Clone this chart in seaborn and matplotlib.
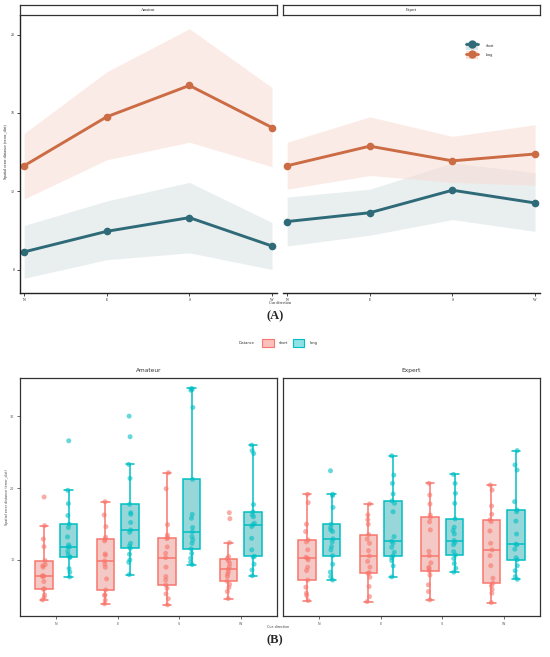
import numpy as np
import pandas as pd
import seaborn as sns
import matplotlib.pyplot as plt
from matplotlib.colors import to_rgb
from matplotlib.patches import Patch
from matplotlib.lines import Line2D

# ---- data ----
directions = ['N', 'E', 'S', 'W']
distances = ['short', 'long']
groups = ['Amateur', 'Expert']

# panel A: mean and ribbon per direction
ama_long_mean = [13.3, 15.8, 17.4, 15.25]
ama_long_lo = [11.6, 13.6, 14.5, 13.25]
ama_long_hi = [14.95, 18.1, 20.3, 17.3]
ama_short_mean = [8.9, 9.95, 10.65, 9.2]
ama_short_lo = [7.55, 8.5, 8.85, 8.0]
ama_short_hi = [10.25, 11.5, 12.45, 10.4]
exp_long_mean = [13.3, 14.3, 13.55, 13.9]
exp_long_lo = [12.1, 12.8, 12.45, 12.3]
exp_long_hi = [14.5, 15.8, 14.8, 15.4]
exp_short_mean = [10.45, 10.9, 12.05, 11.4]
exp_short_lo = [9.2, 9.75, 10.55, 9.95]
exp_short_hi = [11.7, 12.1, 13.45, 12.95]

# panel B: individual error distances
ama_short_N = [18.75, 14.77, 12.9, 11.85, 9.9, 9.35, 9.2, 8.99, 7.8, 7.74, 7.7, 7.0, 6.0, 5.93, 5.15, 4.78, 4.44]
ama_long_N = [26.57, 19.68, 17.83, 16.17, 14.96, 14.5, 13.2, 12.1, 11.8, 11.76, 11.16, 10.7, 10.4, 10.37, 8.8, 8.3, 7.64]
ama_short_E = [18.1, 16.25, 14.63, 13.15, 12.87, 12.64, 10.83, 10.65, 9.86, 9.4, 8.98, 7.36, 5.83, 5.14, 5.05, 4.4, 3.9]
ama_long_E = [30.0, 27.13, 23.29, 21.34, 17.73, 16.57, 16.34, 15.2, 14.17, 13.84, 12.31, 11.94, 11.62, 10.8, 10.0, 9.68, 7.96]
ama_short_S = [22.13, 19.9, 14.9, 13.47, 13.1, 12.96, 11.8, 10.93, 10.32, 9.0, 7.68, 7.2, 6.53, 6.06, 5.28, 4.6, 3.75]
ama_long_S = [33.85, 33.7, 33.6, 31.2, 21.2, 16.34, 15.8, 14.5, 13.9, 13.24, 12.8, 12.31, 11.53, 10.9, 10.23, 9.68, 9.35]
ama_short_W = [16.57, 15.74, 12.4, 10.46, 10.18, 9.86, 9.5, 9.03, 8.7, 8.3, 8.0, 7.68, 7.03, 6.6, 6.15, 5.6, 4.63]
ama_long_W = [25.97, 25.2, 24.8, 17.7, 16.7, 16.25, 16.0, 15.1, 14.9, 14.63, 13.0, 11.4, 10.5, 10.4, 9.4, 8.6, 7.8]
exp_short_N = [19.13, 17.97, 14.96, 13.94, 12.77, 12.5, 11.4, 10.37, 10.23, 10.0, 8.98, 8.52, 7.2, 6.2, 5.37, 5.05, 4.35]
exp_long_N = [22.4, 19.13, 18.94, 17.3, 14.96, 14.5, 14.17, 13.94, 12.93, 12.5, 11.85, 11.4, 10.6, 9.4, 8.3, 7.68, 7.2]
exp_short_E = [17.78, 16.25, 15.6, 14.96, 13.52, 12.9, 12.31, 11.3, 10.55, 9.8, 9.0, 8.24, 8.13, 7.6, 6.3, 4.9, 4.2]
exp_long_E = [24.49, 21.8, 20.65, 19.17, 18.2, 17.87, 16.7, 13.24, 12.6, 12.31, 11.76, 11.06, 10.55, 10.3, 9.9, 9.17, 7.64]
exp_short_S = [20.65, 19.03, 17.78, 16.25, 15.9, 15.3, 14.17, 11.2, 10.6, 9.6, 8.98, 8.8, 8.5, 7.9, 6.53, 5.6, 4.44]
exp_long_S = [21.9, 20.65, 19.26, 17.87, 15.7, 14.54, 14.07, 13.61, 12.7, 12.4, 12.1, 11.16, 10.7, 10.2, 9.5, 8.84, 8.3]
exp_short_W = [20.42, 19.72, 17.5, 16.34, 15.56, 15.33, 14.03, 12.31, 11.4, 10.6, 9.2, 7.45, 6.76, 6.39, 5.9, 5.37, 4.07]
exp_long_W = [25.2, 23.2, 22.5, 18.1, 16.94, 16.7, 15.4, 13.6, 12.2, 12.1, 11.5, 10.3, 10.0, 9.2, 8.5, 7.68, 7.3]

# ---- tables ----
line_rows = []
for grp, series in [('Amateur', [('short', ama_short_mean, ama_short_lo, ama_short_hi),
                                 ('long', ama_long_mean, ama_long_lo, ama_long_hi)]),
                    ('Expert', [('short', exp_short_mean, exp_short_lo, exp_short_hi),
                                ('long', exp_long_mean, exp_long_lo, exp_long_hi)])]:
    for dist, m, lo, hi in series:
        for d, a, b, c in zip(directions, m, lo, hi):
            line_rows.append(dict(Expertise=grp, Distance=dist, Cue=d, mean=a, lo=b, hi=c))
df_line = pd.DataFrame(line_rows)

raw = {
    ('Amateur', 'short'): [ama_short_N, ama_short_E, ama_short_S, ama_short_W],
    ('Amateur', 'long'): [ama_long_N, ama_long_E, ama_long_S, ama_long_W],
    ('Expert', 'short'): [exp_short_N, exp_short_E, exp_short_S, exp_short_W],
    ('Expert', 'long'): [exp_long_N, exp_long_E, exp_long_S, exp_long_W],
}
box_rows = []
for (grp, dist), lists in raw.items():
    for d, vals in zip(directions, lists):
        for v in vals:
            box_rows.append(dict(Expertise=grp, Distance=dist, Cue=d, error_dist=v))
df_box = pd.DataFrame(box_rows)

# ---- style ----
sns.set_style('white')
plt.rcParams['font.family'] = ['DejaVu Sans']
np.random.seed(3)

W, H = 550, 657
fig = plt.figure(figsize=(W / 100, H / 100), dpi=100)


def rect(x0, y0, x1, y1):
    return [x0 / W, 1 - y1 / H, (x1 - x0) / W, (y1 - y0) / H]


line_pal = {'short': '#2F6A79', 'long': '#CB6C45'}
band_pal = {'short': '#D5E0E1', 'long': '#F9D9D0'}
box_pal = {'short': '#F8766D', 'long': '#00BFC4'}
serif = 'Liberation Serif'

# ---- panel A ----
for grp, x0 in [('Amateur', 20), ('Expert', 283)]:
    ax = fig.add_axes(rect(x0, 15, x0 + 257, 293))
    sub = df_line[df_line['Expertise'] == grp]
    for dist in distances:
        s = sub[sub['Distance'] == dist]
        ax.fill_between(s['Cue'], s['lo'], s['hi'], color=band_pal[dist], alpha=0.5, lw=0)
    sns.lineplot(data=sub, x='Cue', y='mean', hue='Distance', hue_order=distances,
                 palette=line_pal, marker='o', markersize=5.5, markeredgewidth=0,
                 linewidth=2.1, sort=False, legend=False, ax=ax)
    ax.set_xlim(-0.05, 3.06)
    ax.set_ylim(6.8, 21)
    ax.set_xlabel('')
    ax.set_ylabel('')
    for side in ['top', 'right']:
        ax.spines[side].set_visible(False)
    ax.spines['bottom'].set_linewidth(1.0)
    ax.spines['left'].set_linewidth(1.0)
    ax.spines['bottom'].set_color('#222222')
    ax.spines['left'].set_color('#222222')
    ax.tick_params(axis='both', length=2, width=0.6, pad=1.5, labelsize=2.8)
    for lab in ax.get_xticklabels() + ax.get_yticklabels():
        lab.set_family(serif)
    if grp == 'Amateur':
        ax.set_yticks([8, 12, 16, 20])
        ax.tick_params(axis='y', left=True)
    else:
        ax.set_yticks([])
        ax.spines['left'].set_visible(False)
    ax.tick_params(axis='x', bottom=True)

    sax = fig.add_axes(rect(x0, 5, x0 + 257, 15))
    sax.set_xticks([])
    sax.set_yticks([])
    for sp in sax.spines.values():
        sp.set_linewidth(0.9)
        sp.set_color('#333333')
    sax.text(0.5, 0.5, grp, ha='center', va='center', fontsize=3, family=serif,
             transform=sax.transAxes)

    if grp == 'Expert':
        handles = [(Patch(fc=band_pal[d], ec='none', alpha=0.8),
                    Line2D([], [], color=line_pal[d], marker='o', lw=2, ms=5))
                   for d in distances]
        ax.legend(handles=handles, labels=distances, loc='upper left',
                  bbox_to_anchor=((462 - x0) / 257, (293 - 38) / 278), frameon=False,
                  handlelength=3.0, handleheight=2.6, labelspacing=0.3,
                  handletextpad=1.8, prop={'family': serif, 'size': 3})

fig.text(280 / W, 1 - 303 / H, 'Cue direction', ha='center', va='center', fontsize=3,
         family=serif)
fig.text(6 / W, 1 - 152 / H, 'Spatial error distance (error_dist)', rotation=90,
         ha='center', va='center', fontsize=3, family=serif)
fig.text(275 / W, 1 - 316 / H, '(A)', ha='center', va='center', fontsize=9,
         family=serif, fontweight='bold')

# ---- panel B ----
for grp, x0 in [('Amateur', 20), ('Expert', 283)]:
    ax = fig.add_axes(rect(x0, 378, x0 + 257, 616))
    sub = df_box[df_box['Expertise'] == grp]
    for dist in distances:
        sns.boxplot(data=sub[sub['Distance'] == dist], x='Cue', y='error_dist',
                    hue='Distance', order=directions, hue_order=distances,
                    palette=box_pal, linecolor=box_pal[dist], dodge=True,
                    width=0.8, gap=0.3, showfliers=False, linewidth=1.1,
                    legend=False, ax=ax)
    for p in ax.patches:
        fc = p.get_facecolor()
        p.set_facecolor((fc[0], fc[1], fc[2], 0.45))
    sns.stripplot(data=sub, x='Cue', y='error_dist', hue='Distance', order=directions,
                  hue_order=distances, palette=box_pal, dodge=True, jitter=0.05,
                  size=3.6, alpha=0.6, linewidth=0, legend=False, ax=ax)
    ax.set_xlim(-0.59, 3.59)
    ax.set_ylim(2.2, 35.3)
    ax.set_xlabel('')
    ax.set_ylabel('')
    for sp in ax.spines.values():
        sp.set_visible(True)
        sp.set_linewidth(0.9)
        sp.set_color('#333333')
    ax.tick_params(axis='both', length=2, width=0.6, pad=2, labelsize=2.4,
                   colors='#555555')
    ax.tick_params(axis='x', bottom=True)
    if grp == 'Amateur':
        ax.set_yticks([10, 20, 30])
        ax.tick_params(axis='y', left=True)
    else:
        ax.set_yticks([])
    ax.set_title(grp, fontsize=4.2, pad=4, color='#333333')

fig.text(278 / W, 1 - 627 / H, 'Cue direction', ha='center', va='center', fontsize=2.4,
         color='#444444')
fig.text(7 / W, 1 - 497 / H, 'Spatial error distance (error_dist)', rotation=90,
         ha='center', va='center', fontsize=2.4, color='#444444')
fig.text(247 / W, 1 - 343 / H, 'Distance', ha='center', va='center', fontsize=2.6,
         color='#333333')
leg_handles = [Patch(fc=(*to_rgb(box_pal[d]), 0.45), ec=box_pal[d], lw=0.8)
               for d in distances]
fig.legend(handles=leg_handles, labels=distances, loc='center left',
           bbox_to_anchor=(259 / W, 1 - 343 / H), ncol=2, frameon=False, fontsize=2.6,
           handlelength=3.2, handleheight=3.0, handletextpad=1.5, columnspacing=1.2)
fig.text(275 / W, 1 - 640 / H, '(B)', ha='center', va='center', fontsize=9,
         family=serif, fontweight='bold')

fig.savefig('out.png', dpi=100)
